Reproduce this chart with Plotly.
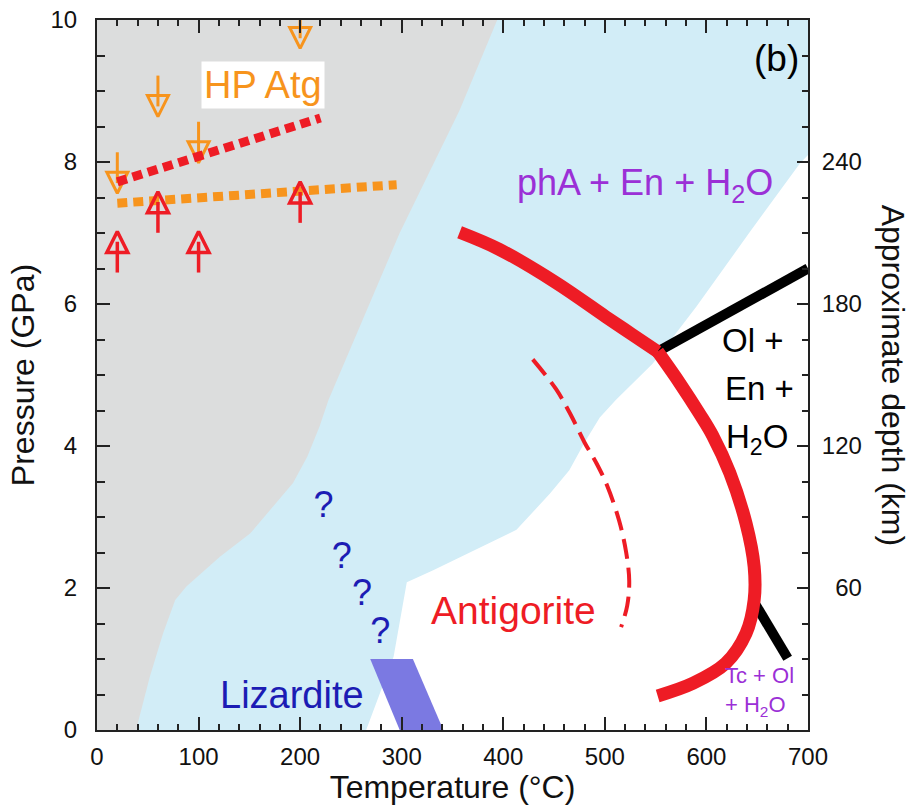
import plotly.graph_objects as go

FONT = "Liberation Sans, Arial, sans-serif"

# ---------------- data (T in °C, P in GPa) ----------------
gray_T = [0, 39, 41, 52, 65, 77, 88, 121, 151, 174, 193, 207, 219, 228, 298, 357, 394, 0]
gray_P = [0, 0, 0.14, 0.75, 1.36, 1.83, 2.02, 2.44, 2.77, 3.15, 3.48, 3.85, 4.27, 4.65, 7.0, 8.73, 10, 10]

white_T = [265, 292, 305, 331, 413, 446, 465, 480, 495, 511, 547, 590, 642, 692, 700, 700]
white_P = [0, 1.03, 2.08, 2.25, 2.82, 3.33, 3.66, 4.05, 4.4, 4.65, 5.16, 5.96, 7.0, 7.98, 8.1, 0]

liz_T = [269, 311, 341, 298]
liz_P = [1.0, 1.0, 0, 0]

# antigorite-out reaction: high-pressure branch and low-pressure branch
atg_hi_T = [357, 396, 452, 501, 527, 552]
atg_hi_P = [7.01, 6.77, 6.3, 5.82, 5.57, 5.33]
atg_lo_T = [552, 574, 593, 606, 623, 639, 647, 647, 639, 619, 587, 552]
atg_lo_P = [5.33, 4.88, 4.46, 4.15, 3.62, 2.91, 2.3, 1.83, 1.36, 0.94, 0.66, 0.48]

dash_T = [429, 452, 466, 480, 492, 502, 514, 521, 524, 522, 516]
dash_P = [5.22, 4.8, 4.45, 4.05, 3.75, 3.45, 2.95, 2.5, 2.1, 1.75, 1.45]

ol_en_T = [552, 700]
ol_en_P = [5.33, 6.5]

tc_ol_T = [647, 680]
tc_ol_P = [1.8, 1.01]

hp_red_T = [20, 220]
hp_red_P = [7.72, 8.62]

hp_orange_T = [20, 295]
hp_orange_P = [7.42, 7.68]

down_T = [20, 60, 100, 200]
down_P = [7.56, 8.64, 7.99, 9.6]

up_T = [20, 60, 100, 200]
up_P = [7.02, 7.58, 7.02, 7.72]

qmark_T = [223, 241, 261, 279]
qmark_P = [3.13, 2.41, 1.89, 1.35]

x_ticks = [0, 100, 200, 300, 400, 500, 600, 700]
y_ticks = [0, 2, 4, 6, 8, 10]
depth_ticks = [60, 120, 180, 240]
KM_PER_GPA = 30

# ---------------- colours ----------------
BLUE_BG = "#d2edf7"
GRAY = "#dcdddd"
RED = "#ee1c25"
ORANGE = "#f7941d"
LIZ = "#7b79e2"
PURPLE = "#9b30d6"
DBLUE = "#1c1cb4"
AX = "#222222"

fig = go.Figure()

fig.add_trace(go.Scatter(x=gray_T, y=gray_P, fill="toself", fillcolor=GRAY,
                         line=dict(width=0), mode="lines", hoverinfo="skip", showlegend=False))
fig.add_trace(go.Scatter(x=white_T, y=white_P, fill="toself", fillcolor="white",
                         line=dict(width=0), mode="lines", hoverinfo="skip", showlegend=False))
fig.add_trace(go.Scatter(x=liz_T, y=liz_P, fill="toself", fillcolor=LIZ,
                         line=dict(width=0), mode="lines", hoverinfo="skip", showlegend=False))

# black reaction lines
fig.add_trace(go.Scatter(x=ol_en_T, y=ol_en_P, mode="lines",
                         line=dict(color="black", width=10), showlegend=False))
fig.add_trace(go.Scatter(x=tc_ol_T, y=tc_ol_P, mode="lines",
                         line=dict(color="black", width=10), showlegend=False))

# antigorite stability
for tt, pp in ((atg_hi_T, atg_hi_P), (atg_lo_T, atg_lo_P)):
    fig.add_trace(go.Scatter(x=tt, y=pp, mode="lines", line_shape="spline",
                             line=dict(color=RED, width=13), showlegend=False))
fig.add_trace(go.Scatter(x=dash_T, y=dash_P, mode="lines", line_shape="spline",
                         line=dict(color=RED, width=4, dash="20px,9px"), showlegend=False))

# HP antigorite bounds
fig.add_trace(go.Scatter(x=hp_orange_T, y=hp_orange_P, mode="lines",
                         line=dict(color=ORANGE, width=9, dash="10px,6px"), showlegend=False))
fig.add_trace(go.Scatter(x=down_T, y=down_P, mode="markers",
                         marker=dict(symbol="arrow-down-open", size=21, color=ORANGE,
                                     line=dict(color=ORANGE, width=3)), showlegend=False))
fig.add_trace(go.Scatter(x=down_T, y=[p + 0.36 for p in down_P], mode="markers",
                         marker=dict(symbol="line-ns", size=22,
                                     line=dict(color=ORANGE, width=3)), showlegend=False))
fig.add_trace(go.Scatter(x=hp_red_T, y=hp_red_P, mode="lines",
                         line=dict(color=RED, width=9, dash="10px,6px"), showlegend=False))
fig.add_trace(go.Scatter(x=up_T, y=up_P, mode="markers",
                         marker=dict(symbol="arrow-up-open", size=21, color=RED,
                                     line=dict(color=RED, width=3.5)), showlegend=False))
fig.add_trace(go.Scatter(x=up_T, y=[p - 0.36 for p in up_P], mode="markers",
                         marker=dict(symbol="line-ns", size=22,
                                     line=dict(color=RED, width=3.5)), showlegend=False))

# question marks
fig.add_trace(go.Scatter(x=qmark_T, y=qmark_P, mode="text", text=["?"] * len(qmark_T),
                         textfont=dict(family=FONT, size=36, color=DBLUE), showlegend=False))

# invisible trace carrying the depth axis
fig.add_trace(go.Scatter(x=[x_ticks[0]] * len(depth_ticks), y=depth_ticks, yaxis="y2",
                         mode="markers", marker=dict(opacity=0), hoverinfo="skip",
                         showlegend=False))

ann = []
def label(x, y, text, size, color, **kw):
    d = dict(x=x, y=y, xref="x", yref="y", text=text, showarrow=False,
             xanchor="center", yanchor="middle",
             font=dict(family=FONT, size=size, color=color))
    d.update(kw)
    ann.append(d)

label(163, 9.09, "HP Atg", 38, ORANGE, bgcolor="white", borderpad=2)
label(669, 9.46, "(b)", 37, "black")
label(540, 7.68, "phA + En + H<sub>2</sub>O", 36, PURPLE)
label(645, 5.49, "Ol +", 33, "black")
label(652, 4.81, "En +", 33, "black")
label(650, 4.1, "H<sub>2</sub>O", 33, "black")
label(410, 1.69, "Antigorite", 39, RED)
label(192, 0.49, "Lizardite", 38, DBLUE)
label(616, 0.77, "Tc + Ol", 22, PURPLE, xanchor="left")
label(616, 0.34, "+ H<sub>2</sub>O", 22, PURPLE, xanchor="left")

ann.append(dict(x=1.12, y=0.5, xref="paper", yref="paper", text="Approximate depth (km)",
                xanchor="center", yanchor="middle",
                textangle=90, showarrow=False, font=dict(family=FONT, size=32, color="#111")))

common = dict(showgrid=False, zeroline=False, automargin=False, layer="above traces",
              showline=True, linecolor=AX, linewidth=2, tickcolor=AX, tickwidth=1.5,
              ticklabeloverflow="allow",
              tickfont=dict(size=24, family=FONT, color="#111"))

fig.update_layout(
    width=917, height=805,
    margin=dict(l=97, r=109, t=20, b=75),
    paper_bgcolor="white", plot_bgcolor=BLUE_BG,
    font=dict(family=FONT, color="#111"),
    annotations=ann,
    showlegend=False,
    xaxis=dict(range=[0, 700], tickvals=x_ticks, ticks="inside", ticklen=13, mirror="ticks",
               ticklabelstandoff=4,
               minor=dict(dtick=20, ticks="inside", ticklen=6, tickwidth=1.5, tickcolor=AX),
               title=dict(text="Temperature (°C)", font=dict(size=32, family=FONT, color="#111"),
                          standoff=6),
               **common),
    yaxis=dict(range=[0, 10], tickvals=y_ticks, ticks="inside", ticklen=13, mirror=False,
               ticklabelstandoff=13,
               minor=dict(dtick=0.5, ticks="inside", ticklen=8, tickwidth=1.5, tickcolor=AX),
               title=dict(text="Pressure (GPa)", font=dict(size=32, family=FONT, color="#111"),
                          standoff=6),
               **common),
    yaxis2=dict(range=[0, 10 * KM_PER_GPA], tickvals=depth_ticks,
                ticktext=[f"{v:>3}".replace(" ", "\u2007") for v in depth_ticks],
                overlaying="y", side="right", anchor="x",
                ticks="inside", ticklen=11, ticklabelstandoff=7,
                minor=dict(dtick=15, ticks="inside", ticklen=6, tickwidth=1.5, tickcolor=AX),
                **common),
)

fig.write_html("out.html", config={"displayModeBar": False},
               post_script="document.body.style.margin='0px';")
